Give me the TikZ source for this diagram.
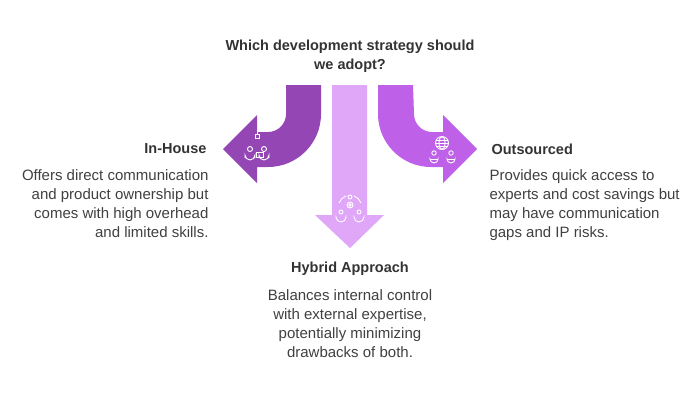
\documentclass[tikz,border=0pt]{standalone}
\usepackage{fontspec}
\setmainfont{Liberation Sans}
\begin{document}
\begin{tikzpicture}[x=1pt,y=-1pt,
  ttl/.style={font=\fontsize{14.5}{19}\selectfont\bfseries,text=black!80},
  desc/.style={font=\fontsize{15}{19}\selectfont,text=black!75},
  ic/.style={white,line width=0.9pt}]
\useasboundingbox (0,0) rectangle (700,400);
\definecolor{cL}{HTML}{9446B5}\definecolor{cC}{HTML}{E0A6F8}\definecolor{cR}{HTML}{BE60E8}
% left arrow
\fill[cL] (286,85) -- (321,85) -- (321,114) arc[start angle=0,end angle=90,radius=53] -- (257,167) -- (257,183) -- (223,149) -- (257,115) -- (257,132) -- (268,132) arc[start angle=90,end angle=0,radius=18] -- cycle;
% right arrow
\fill[cR] (413,85) -- (378,85) -- (378,114) arc[start angle=180,end angle=90,radius=53] -- (443,167) -- (443,183) -- (477,149) -- (443,115) -- (443,132) -- (432,132) arc[start angle=90,end angle=180,radius=18] -- cycle;
% center arrow
\fill[cC] (332,85) -- (367,85) -- (367,215) -- (384,215) -- (350,248) -- (315,215) -- (332,215) -- cycle;
% icons
\begin{scope}[ic]
 \draw (255,134) rectangle (259,138); \draw (257,134) -- (257,130);
 \draw (250,149) circle (2.5); \draw (245,158) -- (245,155) arc[start angle=180,end angle=0,radius=5] -- (255,158);
 \draw (264,149) circle (2.5); \draw (259,158) -- (259,155) arc[start angle=180,end angle=0,radius=5] -- (269,158);
 \draw (256,152) rectangle (263,157);
 \draw (442,143) circle (6.5); \draw (442,143) ellipse (3 and 6.5); \draw (435.5,143) -- (448.5,143);
 \draw (436,140) -- (448,140); \draw (436,146) -- (448,146);
 \draw (434,153) circle (2.2); \draw (430,159.5) -- (430,159) arc[start angle=180,end angle=0,radius=4] -- (438,159.5) -- cycle;
 \draw (451,153) circle (2.2); \draw (447,159.5) -- (447,159) arc[start angle=180,end angle=0,radius=4] -- (455,159.5) -- cycle;
 \draw (350,205) circle (3); \draw (350,205) circle (1.2);
 \draw (350,197) circle (2); \draw (341,212) circle (2); \draw (359,212) circle (2);
 \draw (336,218) -- (336,217) arc[start angle=180,end angle=0,radius=5] -- (346,218);
 \draw (354,218) -- (354,217) arc[start angle=180,end angle=0,radius=5] -- (364,218);
 \draw (339,203) arc[start angle=200,end angle=250,radius=12];
 \draw (361,203) arc[start angle=-20,end angle=-70,radius=12];
\end{scope}
% texts
\node[ttl,align=center] (q) at (350,56) {Which development strategy should\\we adopt?};
\node[ttl,anchor=east] (ih) at (210,149) {In-House};
\node[desc,anchor=north east,align=right] (ihd) at (212,166) {Offers direct communication\\and product ownership but\\comes with high overhead\\and limited skills.};
\node[ttl,anchor=west] (os) at (488,149) {Outsourced};
\node[desc,anchor=north west,align=left] (osd) at (486,166) {Provides quick access to\\experts and cost savings but\\may have communication\\gaps and IP risks.};
\node[ttl] (hy) at (350,269) {Hybrid Approach};
\node[desc,align=center,anchor=north] (hyd) at (350,286) {Balances internal control\\with external expertise,\\potentially minimizing\\drawbacks of both.};
\end{tikzpicture}
\end{document}
